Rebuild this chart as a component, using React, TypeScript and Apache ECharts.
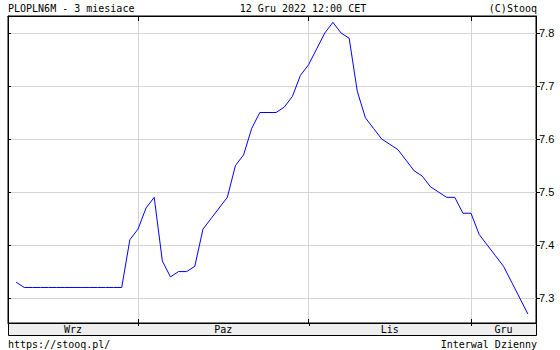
import React, { useEffect, useRef } from 'react';
import * as echarts from 'echarts';

// Trading days (Polish calendar) from 12 Sep to 12 Dec 2022
const dates: string[] = [
  '2022-09-12', '2022-09-13', '2022-09-14', '2022-09-15', '2022-09-16',
  '2022-09-19', '2022-09-20', '2022-09-21', '2022-09-22', '2022-09-23',
  '2022-09-26', '2022-09-27', '2022-09-28', '2022-09-29', '2022-09-30',
  '2022-10-03', '2022-10-04', '2022-10-05', '2022-10-06', '2022-10-07',
  '2022-10-10', '2022-10-11', '2022-10-12', '2022-10-13', '2022-10-14',
  '2022-10-17', '2022-10-18', '2022-10-19', '2022-10-20', '2022-10-21',
  '2022-10-24', '2022-10-25', '2022-10-26', '2022-10-27', '2022-10-28',
  '2022-10-31',
  '2022-11-02', '2022-11-03', '2022-11-04',
  '2022-11-07', '2022-11-08', '2022-11-09', '2022-11-10',
  '2022-11-14', '2022-11-15', '2022-11-16', '2022-11-17', '2022-11-18',
  '2022-11-21', '2022-11-22', '2022-11-23', '2022-11-24', '2022-11-25',
  '2022-11-28', '2022-11-29', '2022-11-30',
  '2022-12-01', '2022-12-02', '2022-12-05', '2022-12-06', '2022-12-07',
  '2022-12-08', '2022-12-09', '2022-12-12',
];

const values: number[] = [
  // Sep
  7.33, 7.32, 7.32, 7.32, 7.32, 7.32, 7.32, 7.32, 7.32, 7.32, 7.32, 7.32, 7.32, 7.32, 7.41,
  // Oct
  7.43, 7.47, 7.49, 7.37, 7.34, 7.35, 7.35, 7.36, 7.43, 7.45, 7.47, 7.49, 7.55, 7.57, 7.62,
  7.65, 7.65, 7.65, 7.66, 7.68, 7.72,
  // Nov
  7.74, 7.77, 7.80, 7.82, 7.80, 7.79, 7.69, 7.64, 7.62, 7.60, 7.59, 7.58, 7.56, 7.54, 7.53,
  7.51, 7.50, 7.49, 7.49, 7.46,
  // Dec
  7.46, 7.42, 7.40, 7.38, 7.36, 7.33, 7.30, 7.27,
];

const monthNames: Record<string, string> = { '09': 'Wrz', '10': 'Paz', '11': 'Lis', '12': 'Gru' };
const yTicks: number[] = [7.3, 7.4, 7.5, 7.6, 7.7, 7.8];
const Y_MIN = 7.253;
const Y_MAX = 7.832;

const titleLeft = 'PLOPLN6M - 3 miesiace';
const titleCenter = '12 Gru 2022 12:00 CET';
const titleRight = '(C)Stooq';
const footLeft = 'https://stooq.pl/';
const footRight = 'Interwal Dzienny';

const MONO = '"DejaVu Sans Mono", monospace';
const GRID = { left: 8, right: 24, top: 16, bottom: 27 };
const W = 560;
const H = 350;

export default function App() {
  const ref = useRef<HTMLDivElement>(null);

  useEffect(() => {
    if (!ref.current) return;
    const chart = echarts.init(ref.current, null, { renderer: 'svg' });

    const cats = ['\u200b', ...dates, '\u200b\u200b'];
    const data: (number | string)[] = ['-', ...values, '-'];

    // indices (in padded categories) of the first trading day of each month
    const monthStarts: number[] = [];
    const monthKeys: string[] = [];
    dates.forEach((d, i) => {
      const m = d.slice(5, 7);
      if (i === 0 || dates[i - 1].slice(5, 7) !== m) {
        monthKeys.push(m);
        monthStarts.push(i + 1);
      }
    });
    const boundaryIdx = monthStarts.slice(1);
    const isBoundary = (idx: number) => boundaryIdx.indexOf(idx) >= 0;

    const gridColor = '#d4d4d4';

    chart.setOption({
      animation: false,
      backgroundColor: '#ffffff',
      grid: {
        left: GRID.left,
        right: GRID.right,
        top: GRID.top,
        bottom: GRID.bottom,
        show: true,
        borderColor: '#000',
        borderWidth: 1,
        backgroundColor: '#fff',
      },
      xAxis: [
        {
          type: 'category',
          data: cats,
          boundaryGap: false,
          position: 'bottom',
          axisLine: { show: true, lineStyle: { color: '#000', width: 1 } },
          axisTick: { show: true, inside: true, length: 4, interval: (i: number) => isBoundary(i), lineStyle: { color: '#000' } },
          axisLabel: { show: false },
          splitLine: { show: true, interval: (i: number) => isBoundary(i), lineStyle: { color: gridColor, width: 1 } },
        },
        {
          type: 'category',
          data: cats,
          boundaryGap: false,
          position: 'top',
          axisLine: { show: true, lineStyle: { color: '#000', width: 1 } },
          axisTick: { show: true, inside: true, length: 5, interval: (i: number) => isBoundary(i), lineStyle: { color: '#000' } },
          axisLabel: { show: false },
          splitLine: { show: false },
        },
      ],
      yAxis: [
        {
          type: 'value',
          position: 'right',
          min: Y_MIN,
          max: Y_MAX,
          splitNumber: 5,
          axisLine: { show: true, lineStyle: { color: '#000', width: 1 } },
          axisTick: { show: true, inside: false, length: 4, customValues: yTicks, lineStyle: { color: '#000' } },
          axisLabel: {
            show: true,
            customValues: yTicks,
            margin: 3,
            color: '#000',
            fontFamily: '"Liberation Sans", Arial, sans-serif',
            fontSize: 11,
            formatter: (v: number) => v.toFixed(1),
          },
          splitLine: { show: true, lineStyle: { color: gridColor, width: 1 } },
        },
        {
          type: 'value',
          position: 'left',
          min: Y_MIN,
          max: Y_MAX,
          splitNumber: 5,
          axisLine: { show: true, lineStyle: { color: '#000', width: 1 } },
          axisTick: { show: true, inside: true, length: 3, customValues: yTicks, lineStyle: { color: '#000' } },
          axisLabel: { show: false },
          splitLine: { show: false },
        },
      ],
      series: [
        {
          type: 'line',
          xAxisIndex: 0,
          yAxisIndex: 0,
          data,
          showSymbol: false,
          symbol: 'none',
          connectNulls: false,
          lineStyle: { color: '#0000ff', width: 1 },
          itemStyle: { color: '#0000ff' },
          z: 5,
        },
      ],
    });

    // month labels centred in their segments of the bottom band
    const gridLeft = GRID.left;
    const gridRight = W - GRID.right;
    const bandTop = H - GRID.bottom;
    const px = (idx: number) => chart.convertToPixel({ xAxisIndex: 0 }, idx) as number;
    const labelEls: any[] = monthKeys.map((m, k) => {
      const start = k === 0 ? gridLeft : px(monthStarts[k]);
      const end = k === monthKeys.length - 1 ? gridRight : px(monthStarts[k + 1]);
      return {
        type: 'text',
        x: (start + end) / 2,
        y: bandTop + 6.5,
        z: 20,
        style: {
          text: monthNames[m],
          fill: '#000',
          font: `10px ${MONO}`,
          align: 'center',
          verticalAlign: 'middle',
        },
      };
    });
    const bandTicks: any[] = boundaryIdx.map((idx) => ({
      type: 'line',
      z: 19,
      shape: { x1: Math.round(px(idx)) + 0.5, y1: bandTop, x2: Math.round(px(idx)) + 0.5, y2: bandTop + 3 },
      style: { stroke: '#000', lineWidth: 1 },
    }));

    chart.setOption({
      graphic: [
        {
          type: 'rect',
          z: 15,
          shape: { x: gridLeft + 0.5, y: bandTop + 0.5, width: gridRight - gridLeft, height: 12 },
          style: { fill: '#eeeeee', stroke: '#000', lineWidth: 1 },
        },
        ...bandTicks,
        ...labelEls,
        {
          type: 'text', x: 8, y: 8.5,
          style: { text: titleLeft, fill: '#000', font: `10px ${MONO}`, align: 'left', verticalAlign: 'middle' },
        },
        {
          type: 'text', x: 303, y: 8.5,
          style: { text: titleCenter, fill: '#000', font: `10px ${MONO}`, align: 'center', verticalAlign: 'middle' },
        },
        {
          type: 'text', x: gridRight + 1, y: 8.5,
          style: { text: titleRight, fill: '#000', font: `10px ${MONO}`, align: 'right', verticalAlign: 'middle' },
        },
        {
          type: 'text', x: 8, y: 344,
          style: { text: footLeft, fill: '#000', font: `10px ${MONO}`, align: 'left', verticalAlign: 'middle' },
        },
        {
          type: 'text', x: gridRight + 1, y: 344,
          style: { text: footRight, fill: '#000', font: `10px ${MONO}`, align: 'right', verticalAlign: 'middle' },
        },
      ],
    });

    return () => chart.dispose();
  }, []);

  return <div ref={ref} style={{ position: 'absolute', left: 0, top: 0, width: W, height: H }} />;
}
